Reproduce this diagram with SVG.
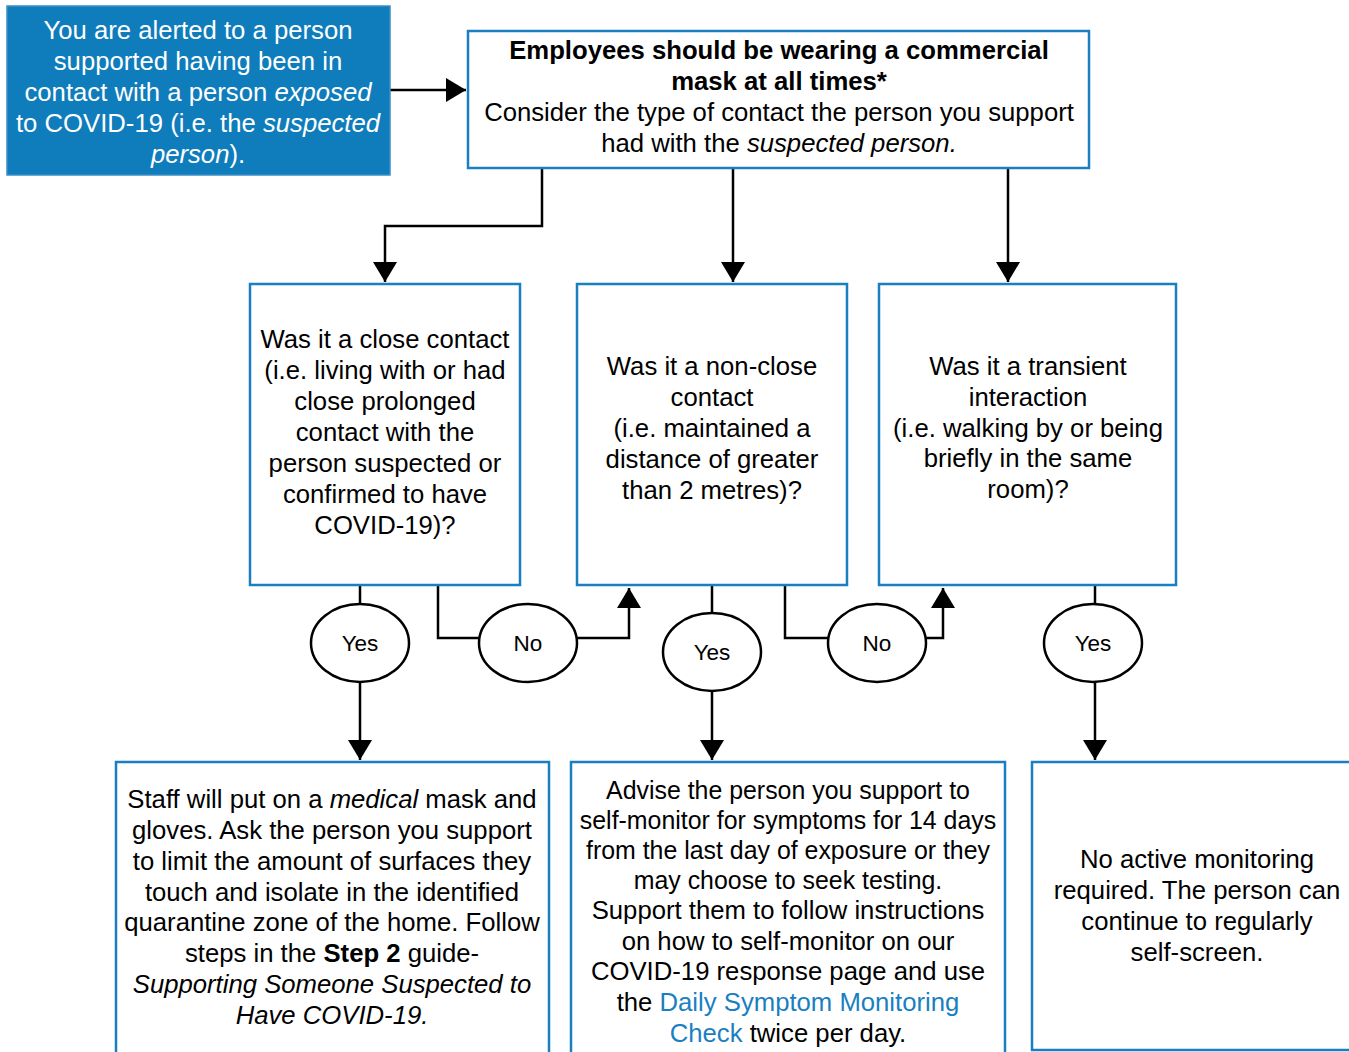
<svg xmlns="http://www.w3.org/2000/svg" width="1349" height="1052" viewBox="0 0 1349 1052">
<style>
text{font-family:"Liberation Sans",Arial,sans-serif;font-size:25.7px;fill:#000;text-anchor:middle}
.box{fill:#fff;stroke:#1a7fc1;stroke-width:2.5}
.oval{fill:#fff;stroke:#000;stroke-width:2.5}
.lbl{font-size:22.5px}
.sm{font-size:24.9px}
.wt{fill:#fff}
.b{font-weight:bold}
.i{font-style:italic}
.lnk{fill:#1a7fc1}
#connectors path{fill:none;stroke:#000;stroke-width:2.5}
</style>
<defs>
<marker id="ahb" viewBox="0 0 20 24" refX="20" refY="12" markerWidth="20" markerHeight="24" orient="auto" markerUnits="userSpaceOnUse">
<path d="M0,0 L20,12 L0,24 z" fill="#000"/>
</marker>
</defs>
<rect width="1349" height="1052" fill="#fff"/>
<g id="connectors">
<path d="M390,90 H466" marker-end="url(#ahb)"/>
<path d="M542,168 V226 H385 V282" marker-end="url(#ahb)"/>
<path d="M733,168 V282" marker-end="url(#ahb)"/>
<path d="M1008,168 V282" marker-end="url(#ahb)"/>
<path d="M360,585 V604"/>
<path d="M360,682 V760" marker-end="url(#ahb)"/>
<path d="M438,585 V638 H479"/>
<path d="M577,638 H629 V588" marker-end="url(#ahb)"/>
<path d="M712,585 V613"/>
<path d="M712,691 V760" marker-end="url(#ahb)"/>
<path d="M785,585 V638 H828"/>
<path d="M926,638 H943 V588" marker-end="url(#ahb)"/>
<path d="M1095,585 V604"/>
<path d="M1095,682 V760" marker-end="url(#ahb)"/>
</g>
<g id="start">
<rect x="7" y="6" width="383" height="169" fill="#0f7cbb" stroke="#3b8fc7" stroke-width="1.5"/>
<text class="wt" x="198" y="39">You are alerted to a person</text>
<text class="wt" x="198" y="70">supported having been in</text>
<text class="wt" x="198" y="101">contact with a person <tspan class="i">exposed</tspan></text>
<text class="wt" x="198" y="132">to COVID-19 (i.e. the <tspan class="i">suspected</tspan></text>
<text class="wt" x="198" y="163"><tspan class="i">person</tspan>).</text>
</g>
<g id="consider">
<rect class="box" x="468" y="31" width="621" height="137"/>
<text class="b" x="779" y="59">Employees should be wearing a commercial</text>
<text class="b" x="779" y="90">mask at all times*</text>
<text x="779" y="121">Consider the type of contact the person you support</text>
<text x="779" y="152">had with the <tspan class="i">suspected person.</tspan></text>
</g>
<g id="close">
<rect class="box" x="250" y="284" width="270" height="301"/>
<text x="385" y="348">Was it a close contact</text>
<text x="385" y="379">(i.e. living with or had</text>
<text x="385" y="410">close prolonged</text>
<text x="385" y="441">contact with the</text>
<text x="385" y="472">person suspected or</text>
<text x="385" y="503">confirmed to have</text>
<text x="385" y="534">COVID-19)?</text>
</g>
<g id="nonclose">
<rect class="box" x="577" y="284" width="270" height="301"/>
<text x="712" y="375">Was it a non-close</text>
<text x="712" y="406">contact</text>
<text x="712" y="437">(i.e. maintained a</text>
<text x="712" y="468">distance of greater</text>
<text x="712" y="499">than 2 metres)?</text>
</g>
<g id="transient">
<rect class="box" x="879" y="284" width="297" height="301"/>
<text x="1028" y="375">Was it a transient</text>
<text x="1028" y="406">interaction</text>
<text x="1028" y="437">(i.e. walking by or being</text>
<text x="1028" y="467">briefly in the same</text>
<text x="1028" y="498">room)?</text>
</g>
<g id="yes1">
<ellipse class="oval" cx="360" cy="643" rx="49" ry="39"/>
<text class="lbl" x="360" y="651">Yes</text>
</g>
<g id="no1">
<ellipse class="oval" cx="528" cy="643" rx="49" ry="39"/>
<text class="lbl" x="528" y="651">No</text>
</g>
<g id="yes2">
<ellipse class="oval" cx="712" cy="652" rx="49" ry="39"/>
<text class="lbl" x="712" y="660">Yes</text>
</g>
<g id="no2">
<ellipse class="oval" cx="877" cy="643" rx="49" ry="39"/>
<text class="lbl" x="877" y="651">No</text>
</g>
<g id="yes3">
<ellipse class="oval" cx="1093" cy="643" rx="49" ry="39"/>
<text class="lbl" x="1093" y="651">Yes</text>
</g>
<g id="medical">
<rect class="box" x="116" y="762" width="433" height="300"/>
<text x="332" y="808">Staff will put on a <tspan class="i">medical</tspan> mask and</text>
<text x="332" y="839">gloves. Ask the person you support</text>
<text x="332" y="870">to limit the amount of surfaces they</text>
<text x="332" y="901">touch and isolate in the identified</text>
<text x="332" y="931">quarantine zone of the home. Follow</text>
<text x="332" y="962">steps in the <tspan class="b">Step 2</tspan> guide-</text>
<text class="i" x="332" y="993">Supporting Someone Suspected to</text>
<text class="i" x="332" y="1024">Have COVID-19.</text>
</g>
<g id="monitor">
<rect class="box" x="571" y="762" width="434" height="300"/>
<text class="sm" x="788" y="799">Advise the person you support to</text>
<text class="sm" x="788" y="829">self-monitor for symptoms for 14 days</text>
<text class="sm" x="788" y="859">from the last day of exposure or they</text>
<text class="sm" x="788" y="889">may choose to seek testing.</text>
<text x="788" y="919">Support them to follow instructions</text>
<text x="788" y="950">on how to self-monitor on our</text>
<text x="788" y="980">COVID-19 response page and use</text>
<text x="788" y="1011">the <tspan class="lnk">Daily Symptom Monitoring</tspan></text>
<text x="788" y="1042"><tspan class="lnk">Check</tspan> twice per day.</text>
</g>
<g id="noactive">
<rect class="box" x="1032" y="762" width="330" height="288"/>
<text x="1197" y="868">No active monitoring</text>
<text x="1197" y="899">required. The person can</text>
<text x="1197" y="930">continue to regularly</text>
<text x="1197" y="961">self-screen.</text>
</g>
</svg>
